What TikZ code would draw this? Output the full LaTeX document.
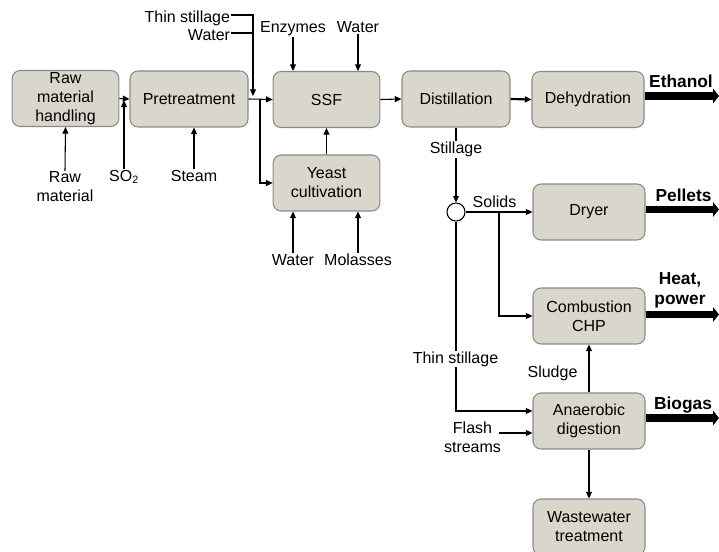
\documentclass[tikz,border=0pt]{standalone}
\usepackage{fontspec}
\setmainfont{Liberation Sans}
\usetikzlibrary{arrows.meta,calc}
\definecolor{boxfill}{HTML}{D9D6CB}
\definecolor{boxline}{HTML}{8A8A8A}
\begin{document}
\begin{tikzpicture}[x=0.75pt,y=-0.75pt,
  box/.style={draw=boxline, fill=boxfill, rounded corners=6pt, line width=0.8pt,
    align=center, inner sep=0pt, minimum height=42pt,
    font=\fontsize{12}{14.25}\selectfont},
  lbl/.style={align=center, inner sep=0.5pt, font=\fontsize{12}{14.25}\selectfont},
  outlbl/.style={align=center, inner sep=0pt, font=\fontsize{13}{15}\selectfont\bfseries},
  arr/.style={line width=0.8pt, -{Triangle[length=5pt,width=4.5pt]}},
  ln/.style={line width=0.8pt},
  bigarr/.style={line width=5.6pt, -{Triangle[length=4.5pt,width=11pt]}}
]
\useasboundingbox (0,0) rectangle (719,552);
\coordinate (redge) at (719,0);

% boxes
\node[box, minimum width=80pt] (rmh) at (65.5,98.5) {Raw\\material\\handling};
\node[box, minimum width=88.5pt] (pre) at (189,99) {Pretreatment};
\node[box, minimum width=80pt] (ssf) at (326.5,99.5) {SSF};
\node[box, minimum width=80pt] (yeast) at (326.5,183) {Yeast\\cultivation};
\node[box, minimum width=81pt] (dist) at (456,99) {Distillation};
\node[box, minimum width=84pt] (dehy) at (588,99.5) {Dehydration};
\node[box, minimum width=84pt] (dryer) at (589,212) {Dryer};
\node[box, minimum width=84pt] (chp) at (589,316) {Combustion\\CHP};
\node[box, minimum width=84pt] (ad) at (589,421) {Anaerobic\\digestion};
\node[box, minimum width=84pt] (ww) at (589,527) {Wastewater\\treatment};

% input labels
\node[lbl] (rawm) at (65,187) {Raw\\material};
\node[lbl] (so2) at (124,177) {SO\textsubscript{2}};
\node[lbl] (steam) at (194,176) {Steam};
\node[lbl, anchor=east] (ts) at (231,18.5) {Thin stillage};
\node[lbl, anchor=east] (tw) at (231,35) {Water};
\node[lbl] (enz) at (293,28.5) {Enzymes};
\node[lbl] (wat1) at (358,27) {Water};
\node[lbl] (wat2) at (293,260) {Water};
\node[lbl] (mol) at (358,260) {Molasses};

% input arrows
\draw[arr] (rawm.north) -- (rmh.south);
\draw[arr] (so2.north) -- ($(so2.north |- rmh.east)+(0,2)$);
\draw[arr] (rmh.east) -- (pre.west);
\draw[arr] (steam.north) -- (steam.north |- pre.south);
\coordinate (jt) at (253,96);
\draw[arr] ($(ts.east)+(0,-3.5)$) -| (jt);
\draw[ln] ($(tw.east)+(0,-2)$) -- ($(tw.east -| jt)+(0,-2)$);
\draw[arr] (enz.south) -- (enz.south |- ssf.north);
\draw[arr] (wat1.south) -- (wat1.south |- ssf.north);
\draw[arr] (wat2.north) -- (wat2.north |- yeast.south);
\draw[arr] (mol.north) -- (mol.north |- yeast.south);

% main line
\draw[arr] (pre.east) -- (ssf.west);
\coordinate (j1) at (260,99);
\draw[arr] (j1) |- (yeast.west);
\draw[arr] (yeast.north) -- (ssf.south);
\draw[arr] (ssf.east) -- (dist.west);
\draw[arr, line width=1.6pt] (dist.east) -- (dehy.west);

% outputs
\draw[bigarr] ($(dehy.east)+(0,-3.5)$) -- ($(dehy.east -| redge)+(0,-3.5)$);
\draw[bigarr] ($(dryer.east)+(0,-2.5)$) -- ($(dryer.east -| redge)+(0,-2.5)$);
\draw[bigarr] ($(chp.east)+(0,-1.5)$) -- ($(chp.east -| redge)+(0,-1.5)$);
\draw[bigarr] ($(ad.east)+(0,-3)$) -- ($(ad.east -| redge)+(0,-3)$);
\node[outlbl] (eth) at (681,81) {Ethanol};
\node[outlbl] (pel) at (683.5,195) {Pellets};
\node[outlbl] (heat) at (680,290) {Heat,\\power};
\node[outlbl] (bio) at (683,405.5) {Biogas};

% stillage split
\node[circle, draw, fill=white, line width=0.8pt, minimum size=13.5pt, inner sep=0pt] (circ) at (456,212) {};
\draw[arr] (dist.south) -- (circ.north);
\node[lbl, fill=white] (still) at (456,149.5) {Stillage};
\draw[arr] (circ.east) -- (dryer.west);
\node[lbl] (sol) at (494.5,202) {Solids};
\coordinate (b1) at (499,212);
\draw[arr] (b1) |- (chp.west);
\draw[arr] (circ.south) |- ($(ad.west)+(0,-10)$);
\node[lbl, fill=white] (tst) at (455.5,359) {Thin stillage};
\node[lbl] (flash) at (472.5,437.5) {Flash\\streams};
\coordinate (fs) at (499,433);
\draw[arr] (fs) -- (fs -| ad.west);
\draw[arr] (ad.north) -- (chp.south);
\node[lbl] (slu) at (552.5,373.5) {Sludge};
\draw[arr] (ad.south) -- (ww.north);
\end{tikzpicture}
\end{document}
